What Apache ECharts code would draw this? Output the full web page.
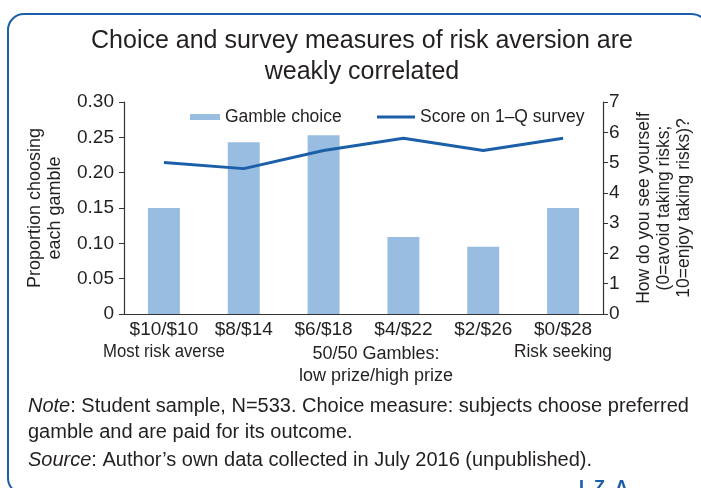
<!DOCTYPE html>
<html>
<head>
<meta charset="utf-8">
<script src="https://cdn.jsdelivr.net/npm/echarts@6/dist/echarts.min.js"></script>
<style>html,body{margin:0;padding:0;background:#fff;}#c{width:701px;height:488px;}</style>
</head>
<body>
<div id="c"></div>
<script>
const categories = ['$10/$10', '$8/$14', '$6/$18', '$4/$22', '$2/$26', '$0/$28'];
const gambleChoice = [0.150, 0.243, 0.253, 0.109, 0.095, 0.150];
const surveyScore = [5.0, 4.8, 5.4, 5.8, 5.4, 5.8];
const leftTicks = [0, 0.05, 0.10, 0.15, 0.20, 0.25, 0.30];
const rightTicks = [0, 1, 2, 3, 4, 5, 6, 7];

const TXT = '#231f20';
const BLUE = '#1a5fa8';
const FONT = '"Liberation Sans", Arial, sans-serif';

const chart = echarts.init(document.getElementById('c'), null, {renderer: 'canvas'});
chart.setOption({
  animation: false,
  backgroundColor: '#fff',
  title: {
    text: 'Choice and survey measures of risk aversion are\nweakly correlated',
    left: 357, top: 21, textAlign: 'center',
    textStyle: {fontFamily: FONT, fontSize: 25, fontWeight: 'normal', color: TXT, lineHeight: 31}
  },
  legend: [
    {
      top: 103, left: 185, itemWidth: 30, itemHeight: 6, itemGap: 0,
      textStyle: {fontFamily: FONT, fontSize: 17.5, color: TXT},
      data: [{name: 'Gamble choice', icon: 'rect'}]
    },
    {
      top: 103, left: 372, itemWidth: 38, itemHeight: 3, itemGap: 0,
      textStyle: {fontFamily: FONT, fontSize: 17.5, color: TXT},
      data: [{name: 'Score on 1\u2013Q survey', icon: 'path://M0,0 L40,0 L40,3 L0,3 Z', itemStyle: {color: BLUE}}]
    }
  ],
  grid: {left: 124, right: 98, top: 102, bottom: 174, containLabel: false, outerBoundsMode: 'none'},
  xAxis: {
    type: 'category', data: categories,
    axisLine: {lineStyle: {color: '#333', width: 1.2}},
    axisTick: {show: false},
    axisLabel: {fontFamily: FONT, fontSize: 19, color: TXT, margin: 6, interval: 0}
  },
  yAxis: [
    {
      type: 'value', min: 0, max: 0.30, interval: 0.05,
      name: 'Proportion choosing\neach gamble', nameLocation: 'middle', nameGap: 59, nameRotate: 90,
      nameTextStyle: {fontFamily: FONT, fontSize: 18, color: TXT, lineHeight: 20},
      axisLine: {show: true, lineStyle: {color: '#333', width: 1.2}},
      axisTick: {show: true, length: 5, lineStyle: {color: '#333'}},
      splitLine: {show: false},
      axisLabel: {fontFamily: FONT, fontSize: 19, color: TXT, margin: 10,
        formatter: v => v === 0 ? '0' : v.toFixed(2)}
    },
    {
      type: 'value', min: 0, max: 7, interval: 1, position: 'right',
      name: 'How do you see yourself\n(0=avoid taking risks;\n10=enjoy taking risks)?',
      nameLocation: 'middle', nameGap: 31, nameRotate: 90,
      nameTextStyle: {fontFamily: FONT, fontSize: 17.5, color: TXT, lineHeight: 20},
      axisLine: {show: true, lineStyle: {color: '#333', width: 1.2}},
      axisTick: {show: true, length: 5, lineStyle: {color: '#333'}},
      splitLine: {show: false},
      axisLabel: {fontFamily: FONT, fontSize: 19, color: TXT, margin: 6}
    }
  ],
  series: [
    {
      name: 'Gamble choice', type: 'bar', data: gambleChoice, yAxisIndex: 0,
      barWidth: '40%', itemStyle: {color: '#99bde0'}
    },
    {
      name: 'Score on 1\u2013Q survey', type: 'line', data: surveyScore, yAxisIndex: 1,
      symbol: 'none', lineStyle: {color: BLUE, width: 3}, itemStyle: {color: BLUE}
    }
  ],
  graphic: [
    {type: 'rect', shape: {x: 8, y: 14, width: 700, height: 480, r: 16}, silent: true,
      style: {fill: 'none', stroke: BLUE, lineWidth: 2}},
    {type: 'text', x: 164, y: 343, scaleX: 0.93, style: {text: 'Most risk averse', textAlign: 'center', font: '18px ' + FONT, fill: TXT}},
    {type: 'text', x: 376, y: 343, scaleX: 1.0, style: {text: '50/50 Gambles:\nlow prize/high prize', textAlign: 'center', font: '18px ' + FONT, lineHeight: 22, fill: TXT}},
    {type: 'text', x: 563, y: 343, scaleX: 0.96, style: {text: 'Risk seeking', textAlign: 'center', font: '18px ' + FONT, fill: TXT}},
    {type: 'text', x: 28, y: 393, style: {
      text: '{i|Note}: Student sample, N=533. Choice measure: subjects choose preferred\ngamble and are paid for its outcome.',
      rich: {i: {fontStyle: 'italic', fontFamily: FONT, fontSize: 20, fill: TXT}},
      font: '20px ' + FONT, lineHeight: 26, fill: TXT}},
    {type: 'text', x: 28, y: 450, style: {
      text: '{i|Source}: Author\u2019s own data collected in July 2016 (unpublished).',
      rich: {i: {fontStyle: 'italic', fontFamily: FONT, fontSize: 20, fill: TXT}},
      font: '20px ' + FONT, fill: TXT}},
    {type: 'text', x: 579, y: 479, style: {text: 'I  Z  A', font: 'bold 18px ' + FONT, fill: BLUE}}
  ]
});
</script>
</body>
</html>
